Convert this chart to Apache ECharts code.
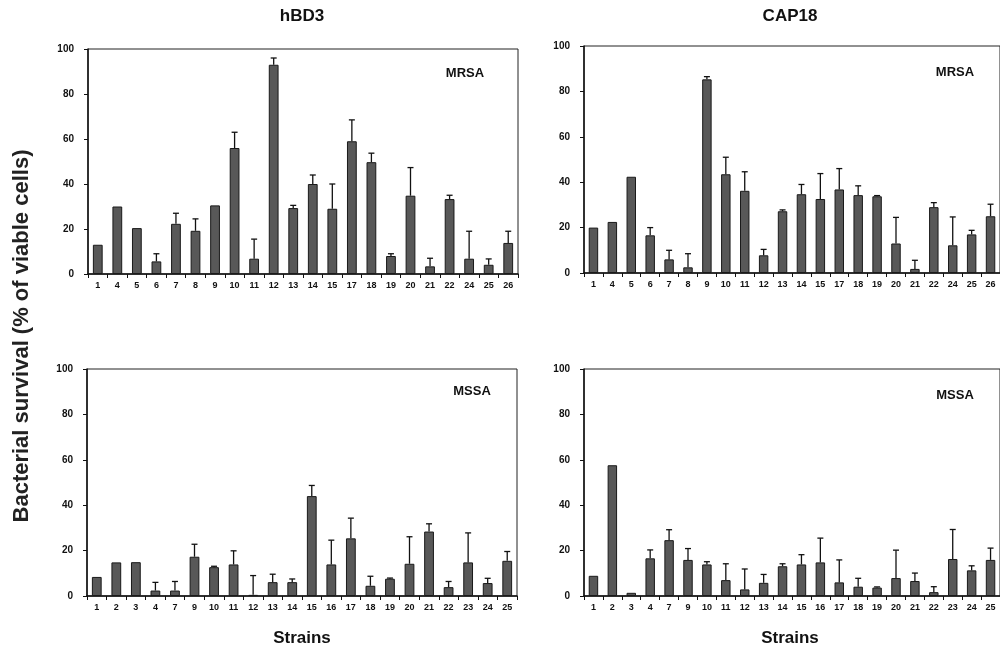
<!DOCTYPE html>
<html>
<head>
<meta charset="utf-8">
<script src="https://cdn.jsdelivr.net/npm/echarts@6/dist/echarts.min.js"></script>
<style>
  html, body { margin: 0; padding: 0; background: #fff; }
  #chart { width: 1000px; height: 652px; }
</style>
</head>
<body>
<div id="chart"></div>
<script>
// strains tested
var strainsMRSA = ['1','4','5','6','7','8','9','10','11','12','13','14','15','17','18','19','20','21','22','24','25','26'];
var strainsMSSA = ['1','2','3','4','7','9','10','11','12','13','14','15','16','17','18','19','20','21','22','23','24','25'];
var yTicks = [0, 20, 40, 60, 80, 100];

// hBD3 vs MRSA (mean, sd)
var hbd3Mrsa    = [13, 30, 20.4, 5.6, 22.3, 19.2, 30.5, 56, 6.8, 93, 29.3, 40, 29, 59, 49.7, 8, 34.8, 3.4, 33.3, 6.8, 4.1, 13.8];
var hbd3MrsaSd  = [0, 0, 0, 3.4, 4.7, 5.3, 0, 7, 8.7, 3, 1.2, 4, 11, 9.5, 4, 1, 12.5, 3.6, 1.7, 12.2, 2.6, 5.2];
// CAP18 vs MRSA
var cap18Mrsa   = [20, 22.5, 42.4, 16.6, 6, 2.5, 85.3, 43.5, 36.2, 7.8, 27.2, 34.7, 32.6, 36.8, 34.3, 33.8, 13, 1.8, 29, 12.2, 17, 25];
var cap18MrsaSd = [0, 0, 0, 3.4, 4, 6, 1.2, 7.5, 8.4, 2.6, 0.6, 4.3, 11.2, 9.2, 4.1, 0.3, 11.5, 3.8, 2, 12.5, 1.8, 5.3];
// hBD3 vs MSSA
var hbd3Mssa    = [8.4, 14.8, 14.9, 2.4, 2.4, 17.3, 12.7, 13.9, 0.5, 6.1, 6.1, 44, 13.9, 25.4, 4.5, 7.6, 14.2, 28.4, 3.9, 14.8, 5.7, 15.5];
var hbd3MssaSd  = [0, 0, 0, 3.6, 4, 5.5, 0.4, 6, 8.5, 3.5, 1.4, 4.7, 10.7, 8.9, 4.2, 0.3, 11.9, 3.4, 2.5, 13, 2.1, 4.1];
// CAP18 vs MSSA
var cap18Mssa   = [8.9, 57.6, 1.4, 16.6, 24.6, 15.9, 13.9, 7, 2.9, 5.8, 13.1, 13.9, 14.8, 6, 4.1, 3.7, 7.9, 6.6, 1.7, 16.3, 11.3, 15.9];
var cap18MssaSd = [0, 0, 0, 3.7, 4.6, 5, 1.2, 7.2, 9, 3.7, 1.1, 4.3, 10.7, 9.9, 3.7, 0.3, 12.3, 3.5, 2.4, 13, 2, 5.2];

var labelFont = 'Liberation Sans';
var panels = [
  { cats: strainsMRSA, vals: hbd3Mrsa,  sd: hbd3MrsaSd,  grid: { left: 88,  top: 49,  width: 430, height: 225 }, tag: 'MRSA', tagPos: [465, 73] },
  { cats: strainsMRSA, vals: cap18Mrsa, sd: cap18MrsaSd, grid: { left: 584, top: 46,  width: 418, height: 227 }, tag: 'MRSA', tagPos: [955, 72] },
  { cats: strainsMSSA, vals: hbd3Mssa,  sd: hbd3MssaSd,  grid: { left: 87,  top: 369, width: 430, height: 227 }, tag: 'MSSA', tagPos: [472, 391] },
  { cats: strainsMSSA, vals: cap18Mssa, sd: cap18MssaSd, grid: { left: 584, top: 369, width: 418, height: 227 }, tag: 'MSSA', tagPos: [955, 395] }
];

var grids = [], xAxes = [], yAxes = [], series = [], graphics = [];

panels.forEach(function (p, i) {
  grids.push(Object.assign({ show: true, borderColor: '#222', borderWidth: 1, backgroundColor: 'transparent' }, p.grid));
  xAxes.push({
    type: 'category', gridIndex: i, data: p.cats,
    axisLine: { lineStyle: { color: '#111', width: 1.5 } },
    axisTick: { show: true, length: 4, lineStyle: { color: '#111' } },
    axisLabel: { color: '#111', fontSize: 9, fontWeight: 'bold', fontFamily: labelFont, margin: 7, interval: 0 }
  });
  yAxes.push({
    type: 'value', gridIndex: i, min: 0, max: 100, interval: 20,
    splitLine: { show: false },
    axisLine: { show: true, lineStyle: { color: '#111', width: 1.5 } },
    axisTick: { show: true, length: 4, lineStyle: { color: '#111' } },
    axisLabel: { color: '#111', fontSize: 10, fontWeight: 'bold', fontFamily: labelFont, margin: 14 }
  });
  series.push({
    type: 'bar', xAxisIndex: i, yAxisIndex: i, data: p.vals, barWidth: '50%',
    itemStyle: { color: '#585858', borderColor: '#1a1a1a', borderWidth: 1 },
    silent: true
  });
  // error bars (upper half only)
  series.push({
    type: 'custom', xAxisIndex: i, yAxisIndex: i,
    data: p.vals.map(function (v, k) { return [k, v, v + p.sd[k]]; }),
    renderItem: function (params, api) {
      var lo = api.coord([api.value(0), api.value(1)]);
      var hi = api.coord([api.value(0), api.value(2)]);
      if (api.value(2) - api.value(1) < 0.05) return;
      var w = 3;
      return {
        type: 'group',
        children: [
          { type: 'line', shape: { x1: lo[0], y1: lo[1], x2: hi[0], y2: hi[1] }, style: { stroke: '#111', lineWidth: 1.3 } },
          { type: 'line', shape: { x1: hi[0] - w, y1: hi[1], x2: hi[0] + w, y2: hi[1] }, style: { stroke: '#111', lineWidth: 1.3 } }
        ]
      };
    },
    z: 3, silent: true
  });
  graphics.push({
    type: 'text', x: p.tagPos[0], y: p.tagPos[1],
    style: { text: p.tag, font: 'bold 13px ' + labelFont, fill: '#111', textAlign: 'center', textVerticalAlign: 'middle' }
  });
});

// column titles, x titles and shared y title
var narrow = '"Liberation Sans Narrow", "Liberation Sans"';
graphics.push(
  { type: 'text', x: 302, y: 16, style: { text: 'hBD3', font: 'bold 17px ' + narrow, fill: '#111', textAlign: 'center', textVerticalAlign: 'middle' } },
  { type: 'text', x: 790, y: 16, style: { text: 'CAP18', font: 'bold 17px ' + narrow, fill: '#111', textAlign: 'center', textVerticalAlign: 'middle' } },
  { type: 'text', x: 302, y: 638, style: { text: 'Strains', font: 'bold 17px ' + narrow, fill: '#111', textAlign: 'center', textVerticalAlign: 'middle' } },
  { type: 'text', x: 790, y: 638, style: { text: 'Strains', font: 'bold 17px ' + narrow, fill: '#111', textAlign: 'center', textVerticalAlign: 'middle' } },
  { type: 'text', x: 22, y: 336, rotation: Math.PI / 2,
    style: { text: 'Bacterial survival (% of viable cells)', font: 'bold 22px ' + labelFont, fill: '#222', textAlign: 'center', textVerticalAlign: 'middle' } }
);

var chart = echarts.init(document.getElementById('chart'));
chart.setOption({
  animation: false,
  grid: grids,
  xAxis: xAxes,
  yAxis: yAxes,
  series: series,
  graphic: graphics
});
</script>
</body>
</html>
